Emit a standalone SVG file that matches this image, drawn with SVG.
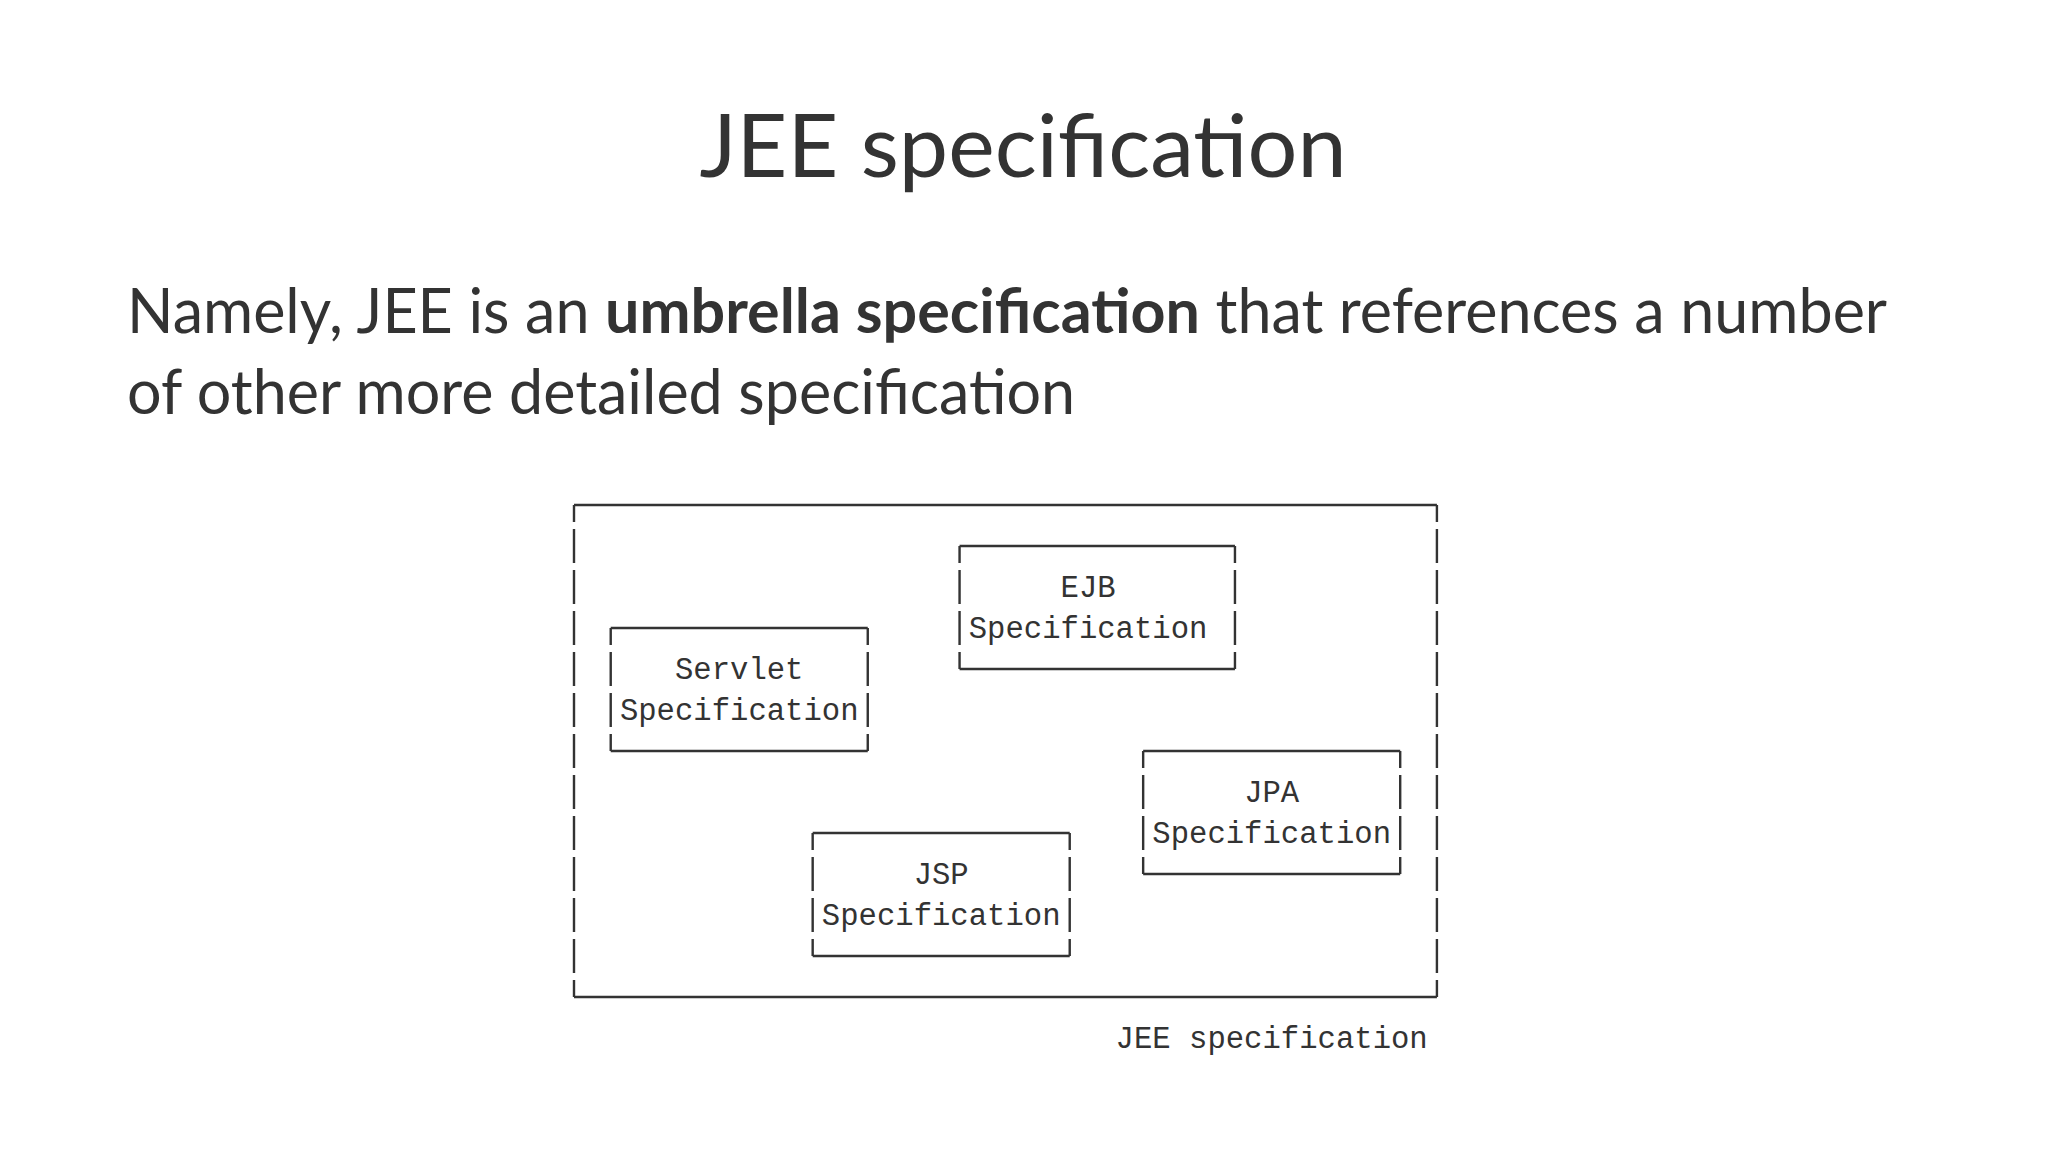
<svg xmlns="http://www.w3.org/2000/svg" width="2048" height="1152" viewBox="0 0 2048 1152">
<style>
.bg{fill:#ffffff}
.title{font-family:Lato,"Noto Sans",sans-serif;font-size:88px;fill:#333333}
.body{font-family:Lato,"Noto Sans",sans-serif;font-size:61px;fill:#333333}
.b{font-weight:bold}
.h{fill:none;stroke:#333333;stroke-width:2.4}
.v{fill:none;stroke:#333333;stroke-width:2.4;stroke-dasharray:34 7;stroke-dashoffset:17}
.mono{font-family:"Liberation Mono","DejaVu Sans Mono",monospace;font-size:30.6px;fill:#333333}
</style>
<rect class="bg" x="0" y="0" width="2048" height="1152"/>
<text class="title" x="1023" y="177" text-anchor="middle">JEE specification</text>
<text class="body" x="127" y="333">Namely, JEE is an <tspan class="b">umbrella specification</tspan> that references a number</text>
<text class="body" x="127" y="414">of other more detailed specification</text>

<g id="jee">
<path class="h" d="M574,505H1436.92M574,997H1436.92"/>
<path class="v" d="M574,505V997M1436.92,505V997"/>
<text class="mono" x="1115.62" y="1047.5">JEE specification</text>
</g>

<g id="servlet">
<path class="h" d="M610.72,628H867.76M610.72,751H867.76"/>
<path class="v" d="M610.72,628V751M867.76,628V751"/>
<text class="mono" x="674.98" y="678.5">Servlet</text>
<text class="mono" x="619.9" y="719.5">Specification</text>
</g>

<g id="ejb">
<path class="h" d="M959.56,546H1234.96M959.56,669H1234.96"/>
<path class="v" d="M959.56,546V669M1234.96,546V669"/>
<text class="mono" x="1060.54" y="596.5">EJB</text>
<text class="mono" x="968.74" y="637.5">Specification</text>
</g>

<g id="jpa">
<path class="h" d="M1143.16,751H1400.2M1143.16,874H1400.2"/>
<path class="v" d="M1143.16,751V874M1400.2,751V874"/>
<text class="mono" x="1244.14" y="801.5">JPA</text>
<text class="mono" x="1152.34" y="842.5">Specification</text>
</g>

<g id="jsp">
<path class="h" d="M812.68,833H1069.72M812.68,956H1069.72"/>
<path class="v" d="M812.68,833V956M1069.72,833V956"/>
<text class="mono" x="913.66" y="883.5">JSP</text>
<text class="mono" x="821.86" y="924.5">Specification</text>
</g>

<g id="connectors"/>
</svg>
